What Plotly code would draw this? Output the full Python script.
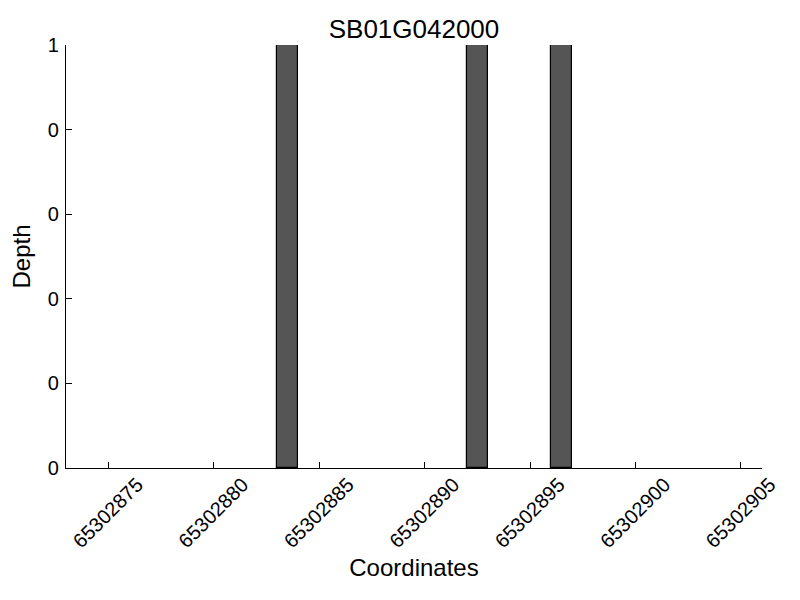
import plotly.graph_objects as go

# coverage data
gene = "SB01G042000"
coords = [65302883, 65302892, 65302896]
depth = [1, 1, 1]

x_range = [65302873, 65302906]
x_tick_start = 65302875
x_tick_step = 5

y_tick_vals = [0, 0.2, 0.4, 0.6, 0.8, 1.0]
y_tick_text = ["0", "0", "0", "0", "0", "1"]

fig = go.Figure()
fig.add_trace(go.Bar(
    x=coords, y=depth,
    width=1, offset=0,
    marker=dict(color="#555555", line=dict(color="black", width=1.2)),
    showlegend=False,
))

# page body adds an 8px offset, margins compensate for it
fig.update_layout(
    width=800, height=600,
    margin=dict(l=58, r=46, t=37, b=140),
    paper_bgcolor="white", plot_bgcolor="white",
    font=dict(family="Liberation Sans, Arial, sans-serif", color="black", size=20),
    title=dict(text=gene, x=0.5, xref="paper", xanchor="center",
               y=0.965, yanchor="middle", font=dict(size=26)),
    bargap=0,
)
fig.update_xaxes(
    range=x_range, tick0=x_tick_start, dtick=x_tick_step, tickformat="d",
    tickangle=-45, ticks="inside", ticklen=6, tickcolor="black",
    ticklabelshift=29, ticklabelstandoff=-4,
    showline=True, linecolor="black", linewidth=1.3, showgrid=False, zeroline=False,
    title=dict(text="Coordinates", font=dict(size=24), standoff=8),
)
fig.update_yaxes(
    range=[0, 1], tickvals=y_tick_vals, ticktext=y_tick_text,
    ticks="inside", ticklen=6, tickcolor="black", ticklabelstandoff=2,
    showline=True, linecolor="black", linewidth=1.3, showgrid=False, zeroline=False,
    title=dict(text="Depth", font=dict(size=24), standoff=10),
)

fig.write_html("out.html")
